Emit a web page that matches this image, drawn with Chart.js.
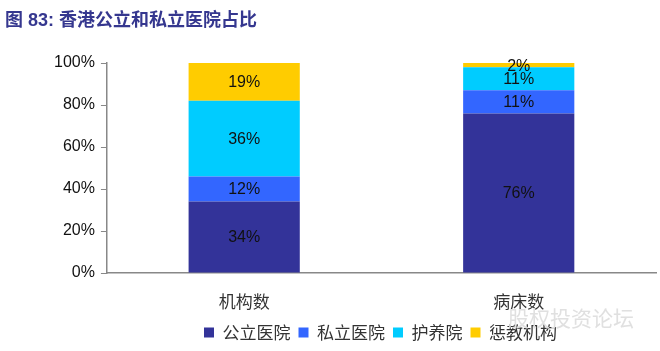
<!DOCTYPE html>
<html>
<head>
<meta charset="utf-8">
<script src="https://cdn.jsdelivr.net/npm/chart.js@4/dist/chart.umd.min.js"></script>
<style>
  html, body { margin: 0; padding: 0; background: #fff; }
  #wrap { position: relative; width: 660px; height: 351px; }
  #title { position: absolute; left: 5px; top: 5px; font: bold 18px "Liberation Sans", "Noto Sans CJK SC", sans-serif; color: #35378f; }
  #mark { position: absolute; left: 508px; top: 302px; font: 21px "Noto Sans CJK SC", sans-serif; color: #e0e0e0; }
</style>
</head>
<body>
<div id="wrap">
  <canvas id="c" width="660" height="351"></canvas>
  <div id="title">图 83: 香港公立和私立医院占比</div>
  <div id="mark">股权投资论坛</div>
</div>
<script>
// 香港公立/私立医院占比（%）
const CATEGORIES  = ['机构数', '病床数'];
const SERIES      = ['公立医院', '私立医院', '护养院', '惩教机构'];
const PUBLIC_HOSP = [34, 76];
const PRIVATE_HOSP= [12, 11];
const NURSING     = [36, 11];
const CORRECTION  = [19, 2];
const Y_TICKS     = [0, 20, 40, 60, 80, 100];

const COLORS = ['#333399', '#3366FF', '#00CCFF', '#FFCC00'];
const VALUES = [PUBLIC_HOSP, PRIVATE_HOSP, NURSING, CORRECTION];

// 在每段中间写百分比
const segLabels = {
  id: 'segLabels',
  afterDatasetsDraw(chart) {
    const ctx = chart.ctx;
    ctx.save();
    ctx.font = '16px "Liberation Sans", Arial, sans-serif';
    ctx.fillStyle = '#111';
    ctx.textAlign = 'center';
    ctx.textBaseline = 'middle';
    chart.data.datasets.forEach((ds, i) => {
      chart.getDatasetMeta(i).data.forEach((bar, j) => {
        const top = Math.max(bar.y, chart.chartArea.top);
        const y = (top + bar.base) / 2;
        ctx.fillText(ds.data[j] + '%', bar.x, y + 1);
      });
    });
    ctx.restore();
  }
};

// 图例整体往右挪一点
const legendShift = {
  id: 'legendShift',
  afterLayout(chart) {
    if (chart.legend) chart.legend.left += 57;
  }
};

new Chart(document.getElementById('c'), {
  type: 'bar',
  data: {
    labels: CATEGORIES,
    datasets: SERIES.map((s, i) => ({
      label: s,
      data: VALUES[i],
      backgroundColor: COLORS[i],
      borderWidth: 0,
      barPercentage: 0.405,
      categoryPercentage: 1
    }))
  },
  options: {
    responsive: false,
    animation: false,
    layout: { padding: { top: 63, right: 4, left: 48, bottom: 0 } },
    plugins: {
      title: { display: false },
      tooltip: { enabled: false },
      legend: {
        position: 'bottom',
        labels: {
          boxWidth: 10, boxHeight: 10, padding: 8,
          color: '#333',
          font: { family: '"Noto Sans CJK SC", sans-serif', size: 17, lineHeight: 1 }
        }
      }
    },
    scales: {
      x: {
        stacked: true,
        grid: { display: false, drawTicks: false },
        border: { color: '#888', width: 1.5 },
        ticks: { color: '#333', padding: 20, font: { family: '"Noto Sans CJK SC", sans-serif', size: 17, lineHeight: 1 } },
        afterFit: axis => { axis.height -= 14; }
      },
      y: {
        stacked: true,
        min: 0, max: 100,
        afterBuildTicks: axis => { axis.ticks = Y_TICKS.map(v => ({ value: v })); },
        grid: { drawOnChartArea: false, tickLength: 6, color: '#888' },
        border: { color: '#888', width: 1.5 },
        ticks: { color: '#111', padding: 6, font: { family: '"Liberation Sans", Arial, sans-serif', size: 16 }, callback: v => v + '%' }
      }
    }
  },
  plugins: [segLabels, legendShift]
});
</script>
</body>
</html>
